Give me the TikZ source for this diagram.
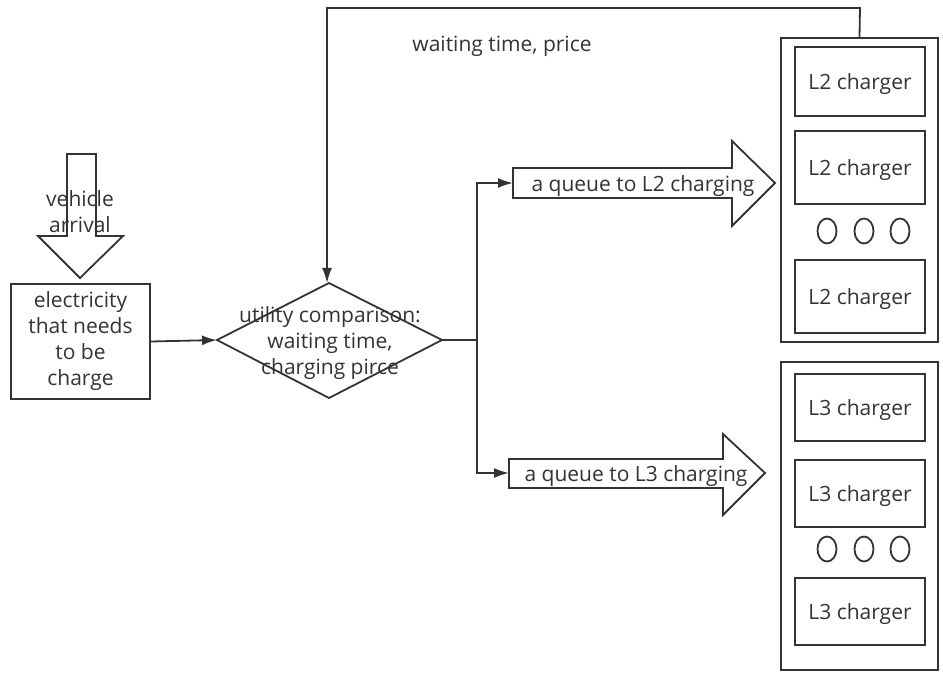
\documentclass[tikz,border=0pt]{standalone}
\usepackage{fontspec}
\setmainfont{Open Sans}
\usetikzlibrary{arrows.meta,shapes.geometric}
\definecolor{ink}{HTML}{333333}
\tikzset{
  ln/.style={draw=ink, line width=1.8pt},
  conn/.style={ln, -{Latex[length=15pt,width=10pt]}},
  txt/.style={text=ink, font=\fontsize{21}{26}\selectfont, align=center, inner sep=0pt},
  chbox/.style={ln, minimum width=130pt, inner sep=0pt, txt, text depth=0pt},
  dot/.style={ln, ellipse, minimum width=19pt, minimum height=25pt, inner sep=0pt}
}
\begin{document}
\begin{tikzpicture}[x=1pt,y=-1pt]
\useasboundingbox (0,0) rectangle (943,679);
% vehicle arrival block arrow
\draw[ln] (67,154) -- (96,154) -- (96,236) -- (123,236) -- (80,278) -- (38,236) -- (67,236) -- cycle;
\node[txt] (va) at (80,212) {vehicle\\arrival};
% electricity box
\node[ln, txt, minimum width=139pt, minimum height=115pt, inner sep=0pt] (elec) at (80.5,341.5) {electricity\\that needs\\to be\\charge};
% diamond
\coordinate (dl) at (217,340);
\coordinate (dr) at (442,340);
\coordinate (dt) at (329,283);
\coordinate (db) at (329,398);
\draw[ln] (dl) -- (dt) -- (dr) -- (db) -- cycle;
\node[txt] (util) at (330,343) {utility comparison:\\waiting time,\\charging pirce};
\draw[conn] (elec.east) -- (dl);
% L2 container
\node[ln, minimum width=157pt, minimum height=304pt, inner sep=0pt] (c2) at (859.5,190) {};
\node[chbox, minimum height=69pt] (a1) at (860,81.5) {L2 charger};
\node[chbox, minimum height=73pt] (a2) at (860,167.5) {L2 charger};
\node[dot] (ad1) at (827,231) {};
\node[dot] (ad2) at (864,231) {};
\node[dot] (ad3) at (900,231) {};
\node[chbox, minimum height=73pt] (a3) at (860,296.5) {L2 charger};
% L3 container
\node[ln, minimum width=157pt, minimum height=308pt, inner sep=0pt] (c3) at (859.5,516) {};
\node[chbox, minimum height=67pt] (b1) at (860,407.5) {L3 charger};
\node[chbox, minimum height=67pt] (b2) at (860,493.5) {L3 charger};
\node[dot] (bd1) at (827,549) {};
\node[dot] (bd2) at (864,549) {};
\node[dot] (bd3) at (900,549) {};
\node[chbox, minimum height=67pt] (b3) at (860,611.5) {L3 charger};
% feedback
\draw[conn] (c2.north) -- (860,8) -- (327,8) -- (327,283);
\node[txt, text depth=0pt] (wtp) at (502,44) {waiting time, price};
% L2 queue arrow
\coordinate (q2l) at (513,183);
\draw[ln] (513,168) -- (732,168) -- (732,141) -- (775,183) -- (732,226) -- (732,198) -- (513,198) -- cycle;
\node[txt, text depth=0pt] (q2) at (643,184) {a queue to L2 charging};
% L3 queue arrow
\coordinate (q3l) at (509,473);
\draw[ln] (509,459) -- (723,459) -- (723,434) -- (765,473) -- (723,515) -- (723,488) -- (509,488) -- cycle;
\node[txt, text depth=0pt] (q3) at (636,474) {a queue to L3 charging};
% branch
\coordinate (br) at (477,340);
\draw[ln] (dr) -- (br);
\draw[conn] (br) |- (q2l);
\draw[conn] (br) |- (q3l);
\end{tikzpicture}
\end{document}
